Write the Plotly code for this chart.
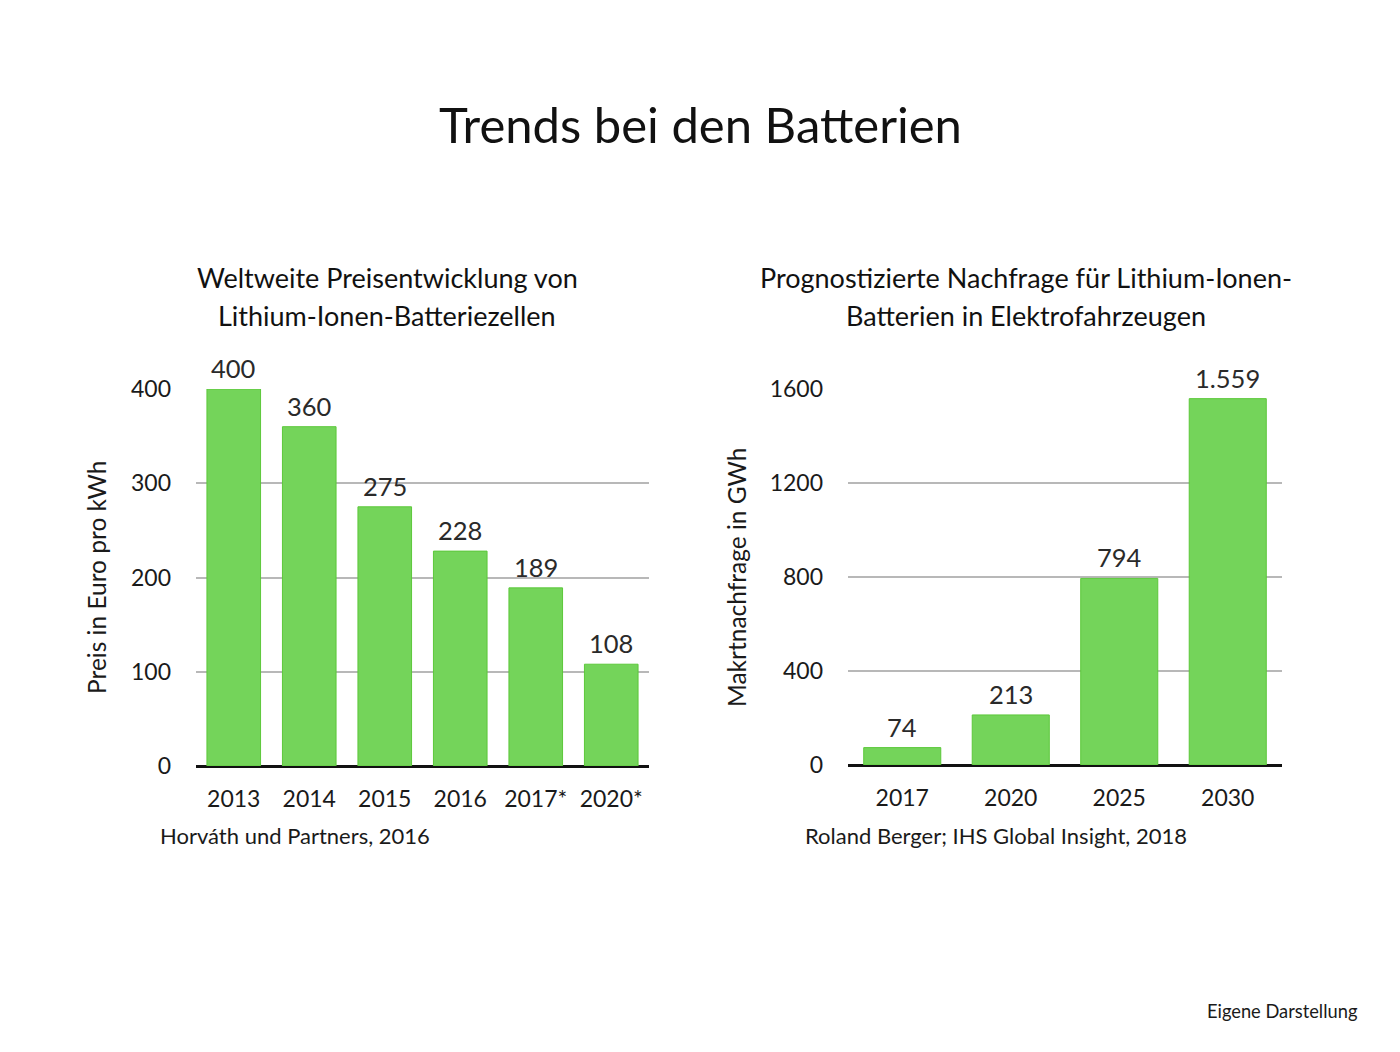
import plotly.graph_objects as go

# Data
price_years = ["2013", "2014", "2015", "2016", "2017*", "2020*"]
price_values = [400, 360, 275, 228, 189, 108]
demand_years = ["2017", "2020", "2025", "2030"]
demand_values = [74, 213, 794, 1559]

W, H = 1400, 1052
OFF = 8  # page body margin
FONT = "Lato, 'Noto Sans', sans-serif"
TXT = "#1a1a1a"
BAR = "#74d45a"
BAR_LINE = "#5cc83a"


def px(x):
    return (x - OFF) / W


def py(y):
    return 1 - (y - OFF) / H


def fmt(v):
    return f"{v:,}".replace(",", ".")


fig = go.Figure()
fig.add_trace(go.Bar(
    x=price_years, y=price_values, xaxis="x", yaxis="y",
    marker=dict(color=BAR, line=dict(color=BAR_LINE, width=1)),
    showlegend=False, hoverinfo="x+y",
))
fig.add_trace(go.Bar(
    x=demand_years, y=demand_values, xaxis="x2", yaxis="y2",
    marker=dict(color=BAR, line=dict(color=BAR_LINE, width=1)),
    showlegend=False, hoverinfo="x+y",
))

# value labels above bars
for cats, vals, xr, yr in [(price_years, price_values, "x", "y"),
                           (demand_years, demand_values, "x2", "y2")]:
    for i, (c, v) in enumerate(zip(cats, vals)):
        fig.add_annotation(x=i, y=v, xref=xr, yref=yr, text=fmt(v), showarrow=False,
                           xanchor="center", yanchor="middle", yshift=21,
                           font=dict(size=25.5, color="#2a2a2a", family=FONT))

yax_common = dict(
    showgrid=True, gridcolor="#b8b8b8", gridwidth=1.5,
    zeroline=True, zerolinecolor="#111111", zerolinewidth=1.5,
    showline=False, ticks="", ticklabelstandoff=24,
    tickfont=dict(size=23, color=TXT, family=FONT),
)
xax_common = dict(
    type="category",
    showgrid=False, showline=True, linecolor="#111111", linewidth=1.5,
    ticks="", ticklabelstandoff=12,
    tickfont=dict(size=23, color=TXT, family=FONT),
)

fig.update_layout(
    width=W, height=H,
    margin=dict(l=0, r=0, t=0, b=0, autoexpand=False),
    paper_bgcolor="white", plot_bgcolor="white",
    bargap=0.29,
    font=dict(family=FONT, color=TXT),
    xaxis=dict(domain=[px(196), px(649)], anchor="y", **xax_common),
    yaxis=dict(domain=[py(766), py(389)], anchor="x", range=[0, 400],
               tickvals=[0, 100, 200, 300, 400], **yax_common),
    xaxis2=dict(domain=[px(848), px(1282)], anchor="y2", **xax_common),
    yaxis2=dict(domain=[py(765), py(389)], anchor="x2", range=[0, 1600],
                tickvals=[0, 400, 800, 1200, 1600], **yax_common),
)


def text(t, x, y, size, xanchor="center", angle=0, color=TXT):
    fig.add_annotation(text=t, x=px(x), y=py(y), xref="paper", yref="paper",
                       xanchor=xanchor, yanchor="middle", showarrow=False, textangle=angle,
                       font=dict(size=size, color=color, family=FONT))


text("Trends bei den Batterien", 700, 124, 49, color="#111111")
text("Weltweite Preisentwicklung von", 387, 277, 27, color="#111111")
text("Lithium-Ionen-Batteriezellen", 387, 315, 27, color="#111111")
text("Prognostizierte Nachfrage für Lithium-Ionen-", 1026, 277, 27, color="#111111")
text("Batterien in Elektrofahrzeugen", 1026, 315, 27, color="#111111")
text("Horváth und Partners, 2016", 158, 835, 22, xanchor="left")
text("Roland Berger; IHS Global Insight, 2018", 803, 835, 22, xanchor="left")
text("Eigene Darstellung", 1360, 1011, 18.3, xanchor="right")
text("Preis in Euro pro kWh", 96, 578, 24.5, angle=-90)
text("Makrtnachfrage in GWh", 736, 577, 24.5, angle=-90)

fig.write_html("out.html")
